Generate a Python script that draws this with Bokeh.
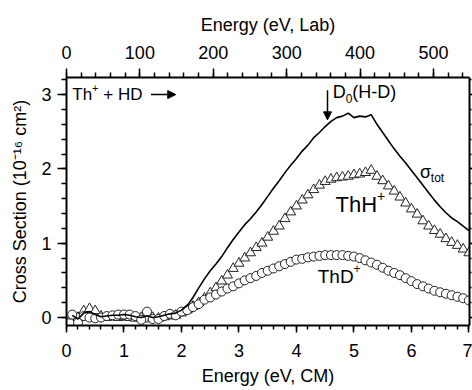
from bokeh.plotting import figure
from bokeh.models import Range1d, LinearAxis, Label, Arrow, NormalHead, SingleIntervalTicker
from bokeh.embed import file_html
from bokeh.resources import INLINE

# ---------------- data ----------------
energy_cm = [0.1, 0.2, 0.3, 0.4, 0.5, 0.6, 0.7, 0.8, 0.9, 1.0,
             1.1, 1.2, 1.3, 1.4, 1.5, 1.6, 1.7, 1.8, 1.9, 2.0,
             2.1, 2.2, 2.3, 2.4, 2.5, 2.6, 2.7, 2.8, 2.9, 3.0,
             3.1, 3.2, 3.3, 3.4, 3.5, 3.6, 3.7, 3.8, 3.9, 4.0,
             4.1, 4.2, 4.3, 4.4, 4.5, 4.6, 4.7, 4.8, 4.9, 5.0,
             5.1, 5.2, 5.3, 5.4, 5.5, 5.6, 5.7, 5.8, 5.9, 6.0,
             6.1, 6.2, 6.3, 6.4, 6.5, 6.6, 6.7, 6.8, 6.9, 7.0]

sigma_tot = [0.03, -0.02, 0.06, 0.08, 0.04, 0.01, 0.02, 0.03, 0.03, 0.04,
             0.03, 0.01, 0.00, 0.02, 0.00, 0.01, 0.03, 0.05, 0.06, 0.10,
             0.16, 0.27, 0.40, 0.52, 0.63, 0.72, 0.82, 0.94, 1.05, 1.15,
             1.25, 1.33, 1.42, 1.52, 1.63, 1.74, 1.84, 1.95, 2.05, 2.14,
             2.24, 2.32, 2.42, 2.49, 2.57, 2.64, 2.69, 2.71, 2.75, 2.69,
             2.71, 2.70, 2.73, 2.60, 2.49, 2.38, 2.27, 2.17, 2.08, 1.98,
             1.88, 1.78, 1.68, 1.58, 1.49, 1.41, 1.34, 1.29, 1.23, 1.17]

sigma_thh = [0.02, 0.00, 0.09, 0.12, 0.09, 0.02, 0.00, 0.01, 0.00, 0.01,
             0.00, -0.01, 0.00, -0.02, 0.00, -0.01, 0.01, 0.02, 0.03, 0.06,
             0.10, 0.15, 0.20, 0.26, 0.33, 0.40, 0.49, 0.57, 0.66, 0.73,
             0.80, 0.87, 0.94, 1.00, 1.08, 1.16, 1.23, 1.33, 1.42, 1.50,
             1.58, 1.65, 1.72, 1.78, 1.83, 1.86, 1.88, 1.89, 1.90, 1.92,
             1.93, 1.95, 1.98, 1.90, 1.84, 1.77, 1.70, 1.62, 1.54, 1.46,
             1.39, 1.30, 1.23, 1.17, 1.12, 1.06, 1.01, 0.97, 0.92, 0.87]

sigma_thd = [0.04, -0.07, 0.02, 0.00, -0.01, 0.00, 0.02, 0.03, 0.04, 0.04,
             0.04, 0.02, -0.03, 0.08, -0.02, -0.02, 0.02, 0.05, 0.03, 0.08,
             0.10, 0.14, 0.18, 0.24, 0.27, 0.31, 0.35, 0.39, 0.42, 0.46,
             0.50, 0.53, 0.56, 0.60, 0.63, 0.66, 0.69, 0.72, 0.75, 0.78,
             0.79, 0.81, 0.82, 0.83, 0.84, 0.84, 0.84, 0.84, 0.83, 0.82,
             0.80, 0.77, 0.74, 0.71, 0.67, 0.63, 0.60, 0.57, 0.53, 0.49,
             0.45, 0.42, 0.39, 0.36, 0.34, 0.32, 0.30, 0.28, 0.26, 0.23]

# masses used for the Lab <-> CM energy conversion (Th+ + HD)
M_TH = 232.0
M_HD = 3.0
LAB_PER_CM = (M_TH + M_HD) / M_HD

X_LABEL_BOTTOM = "Energy (eV, CM)"
X_LABEL_TOP = "Energy (eV, Lab)"
Y_LABEL = "Cross Section (10\u207b\u00b9\u2076 cm\u00b2)"

# ---------------- figure ----------------
FONT = "Liberation Sans"
X_MAX = 7.01
Y_MIN, Y_MAX = -0.107, 3.23

p = figure(width=472, height=390,
           x_range=Range1d(0, X_MAX), y_range=Range1d(Y_MIN, Y_MAX),
           output_backend="svg", toolbar_location=None,
           min_border_left=66, min_border_right=3,
           min_border_top=77, min_border_bottom=65)
p.extra_x_ranges = {"lab": Range1d(0, X_MAX * LAB_PER_CM)}
p.outline_line_color = None
p.xgrid.grid_line_color = None
p.ygrid.grid_line_color = None
p.background_fill_color = "white"
p.border_fill_color = "white"


def style_axis(ax, tick_out=9, minor_out=5, standoff=6, label_standoff=8):
    ax.axis_line_width = 2
    ax.axis_line_color = "black"
    ax.major_tick_line_width = 1.5
    ax.minor_tick_line_width = 1.5
    ax.major_tick_line_color = "black"
    ax.minor_tick_line_color = "black"
    ax.major_tick_in = 0
    ax.minor_tick_in = 0
    ax.major_tick_out = tick_out
    ax.minor_tick_out = minor_out
    ax.major_label_standoff = standoff
    ax.major_label_text_font = FONT
    ax.major_label_text_font_size = "18px"
    ax.major_label_text_color = "black"
    ax.axis_label_text_font = FONT
    ax.axis_label_text_font_size = "18px"
    ax.axis_label_text_font_style = "normal"
    ax.axis_label_text_color = "black"
    ax.axis_label_standoff = label_standoff


xb = p.xaxis[0]
xb.ticker = SingleIntervalTicker(interval=1, num_minor_ticks=5)
xb.axis_label = X_LABEL_BOTTOM
style_axis(xb, tick_out=7, minor_out=4, standoff=11, label_standoff=6)

yl = p.yaxis[0]
yl.ticker = SingleIntervalTicker(interval=1, num_minor_ticks=5)
yl.axis_label = Y_LABEL
style_axis(yl, tick_out=9, minor_out=5, standoff=6, label_standoff=8)

xt = LinearAxis(x_range_name="lab",
                ticker=SingleIntervalTicker(interval=100, num_minor_ticks=5),
                axis_label=X_LABEL_TOP)
style_axis(xt, tick_out=9, minor_out=5, standoff=10, label_standoff=8)
p.add_layout(xt, "above")

yr = LinearAxis(ticker=SingleIntervalTicker(interval=1, num_minor_ticks=5))
style_axis(yr, tick_out=3, minor_out=2, standoff=0, label_standoff=0)
yr.major_label_text_font_size = "0px"
yr.major_label_text_color = None
p.add_layout(yr, "right")

# ---------------- data marks ----------------
p.scatter(energy_cm, sigma_thh, marker="triangle", size=10,
          fill_color="white", line_color="#222222", line_width=1)
p.scatter(energy_cm, sigma_thd, marker="circle", size=9,
          fill_color="white", line_color="#222222", line_width=1)
p.line(energy_cm, sigma_tot, line_color="black", line_width=1.6)

# ---------------- annotations ----------------
WIDTH = {'T': .611, 'h': .556, 'H': .722, 'D': .722, '+': .584, ' ': .278,
         '\u00a0': .278, '(': .333, ')': .333, '-': .333, '0': .556,
         't': .278, 'o': .556, '\u03c3': .60}


def text_width(s, size):
    return sum(WIDTH.get(c, .556) for c in s) * size


def rich_label(x, y, segments):
    """segments: list of (text, font_px, vertical_offset_px)"""
    off = 0.0
    for txt, size, dy in segments:
        p.add_layout(Label(x=x, y=y, x_offset=off, y_offset=dy, text=txt,
                           text_font=FONT, text_font_size=f"{size}px",
                           text_color="black", text_baseline="middle",
                           text_align="left"))
        off += text_width(txt, size)


# reaction label + arrow
rich_label(0.1, 3.0, [("Th", 17, 0), ("+", 11, 7), ("\u00a0+\u00a0HD", 17, 0)])
p.add_layout(Arrow(x_start=1.47, y_start=3.0, x_end=1.90, y_end=3.0,
                   line_width=1.5, line_color="black",
                   end=NormalHead(size=8, fill_color="black",
                                  line_color="black")))

# D0(H-D) marker
D0_CM = 4.54
p.add_layout(Arrow(x_start=D0_CM, y_start=3.06, x_end=D0_CM, y_end=2.66,
                   line_width=1.5, line_color="black",
                   end=NormalHead(size=8, fill_color="black",
                                  line_color="black")))
rich_label(4.63, 3.03, [("D", 18, 0), ("0", 12, -6), ("(H-D)", 18, 0)])

# curve labels
rich_label(6.15, 1.96, [("\u03c3", 18, 0), ("tot", 12, -6)])
rich_label(4.68, 1.52, [("ThH", 22, 0), ("+", 14, 9)])
rich_label(4.37, 0.55, [("ThD", 19, 0), ("+", 12, 8)])

open("out.html", "w").write(file_html(p, INLINE))
